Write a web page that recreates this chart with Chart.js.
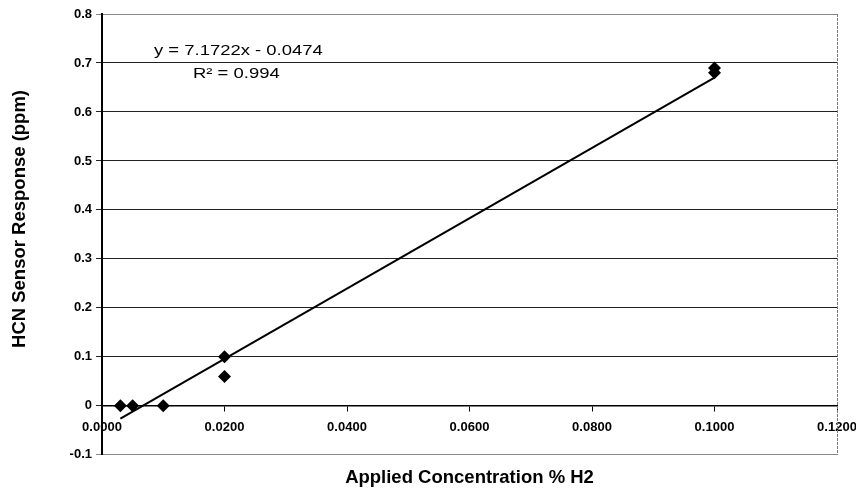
<!DOCTYPE html>
<html>
<head>
<meta charset="utf-8">
<script src="https://cdn.jsdelivr.net/npm/chart.js@4.4.1/dist/chart.umd.min.js"></script>
<style>
html,body{margin:0;padding:0;background:#fff;}
#wrap{width:856px;height:493px;position:relative;}
</style>
</head>
<body>
<div id="wrap"><canvas id="c" width="856" height="493"></canvas></div>
<script>
// Data
const concentration = [0.003, 0.005, 0.010, 0.020, 0.020, 0.100, 0.100];
const response      = [0.000, 0.000, 0.000, 0.100, 0.060, 0.680, 0.690];
// Trend line end points as drawn (x from 0.003 to 0.100)
const trendX = [0.003, 0.100];
const trendY = [-0.026, 0.670];
const equationText = 'y = 7.1722x - 0.0474';
const r2Text = 'R² = 0.994';
const xTitle = 'Applied Concentration % H2';
const yTitle = 'HCN Sensor Response (ppm)';

const FONT = '"Liberation Sans", Arial, Helvetica, sans-serif';

const frameAndText = {
  id: 'frameAndText',
  afterDraw(chart) {
    const ctx = chart.ctx;
    const a = chart.chartArea;
    ctx.save();
    // dashed right border of plot area
    ctx.strokeStyle = '#777';
    ctx.lineWidth = 1;
    ctx.setLineDash([3, 1]);
    ctx.beginPath();
    ctx.moveTo(a.right + 0.5, a.top);
    ctx.lineTo(a.right + 0.5, a.bottom);
    ctx.stroke();
    ctx.setLineDash([]);
    // equation text
    ctx.fillStyle = '#000';
    ctx.font = '15px ' + FONT;
    ctx.textBaseline = 'alphabetic';
    ctx.textAlign = 'left';
    ctx.save();
    ctx.translate(a.left + 52, 55);
    ctx.scale(1.23, 1);
    ctx.fillText(equationText, 0, 0);
    ctx.restore();
    ctx.save();
    ctx.translate(a.left + 91, 78);
    ctx.scale(1.23, 1);
    ctx.fillText(r2Text, 0, 0);
    ctx.restore();
    ctx.restore();
  }
};

new Chart(document.getElementById('c'), {
  type: 'scatter',
  data: {
    datasets: [
      {
        label: 'data',
        data: concentration.map((x, i) => ({x: x, y: response[i]})),
        pointStyle: 'rectRot',
        pointRadius: 6.5,
        pointHoverRadius: 6.5,
        backgroundColor: '#000',
        borderColor: '#000',
        borderWidth: 0,
        showLine: false
      },
      {
        label: 'trend',
        data: trendX.map((x, i) => ({x: x, y: trendY[i]})),
        showLine: true,
        borderColor: '#000',
        borderWidth: 2,
        pointRadius: 0,
        fill: false
      }
    ]
  },
  options: {
    responsive: false,
    animation: false,
    layout: { padding: { top: 14, right: 19, left: 0, bottom: 1 } },
    plugins: {
      legend: { display: false },
      tooltip: { enabled: false },
      title: {
        display: true,
        position: 'bottom',
        text: xTitle,
        fullSize: false,
        color: '#000',
        font: { family: FONT, size: 18.5, weight: 'bold', lineHeight: 1.2 },
        padding: { top: 12, bottom: 3 }
      }
    },
    scales: {
      x: {
        type: 'linear',
        position: { y: 0 },
        min: 0,
        max: 0.12,
        afterFit(scale) { scale.paddingLeft = 0; scale.paddingRight = 0; },
        ticks: {
          stepSize: 0.02,
          color: '#000',
          padding: 9,
          font: { family: FONT, size: 13, weight: 'bold' },
          callback: v => Number(v).toFixed(4),
          maxRotation: 0,
          autoSkip: false
        },
        grid: { drawOnChartArea: false, drawTicks: true, tickLength: 5, color: '#000' },
        border: { display: true, color: '#000', width: 1.5 }
      },
      y: {
        type: 'linear',
        position: 'left',
        min: -0.1,
        max: 0.8,
        afterFit(scale) { scale.width = 102; },
        ticks: {
          stepSize: 0.1,
          color: '#000',
          padding: 4,
          font: { family: FONT, size: 13, weight: 'bold' },
          callback: v => Math.abs(v) < 1e-9 ? '0' : Number(v).toFixed(1)
        },
        grid: {
          color: c => (c.tick && (c.tick.value > 0.75 || c.tick.value < -0.05)) ? '#888' : '#222',
          lineWidth: 1,
          tickLength: 6,
          drawTicks: true
        },
        border: { display: true, color: '#000', width: 2 },
        title: {
          display: true,
          text: '      ' + yTitle,
          color: '#000',
          font: { family: FONT, size: 18.5, weight: 'bold', lineHeight: 1.2 },
          padding: { top: 9, bottom: 0 }
        }
      }
    }
  },
  plugins: [frameAndText]
});
</script>
</body>
</html>
